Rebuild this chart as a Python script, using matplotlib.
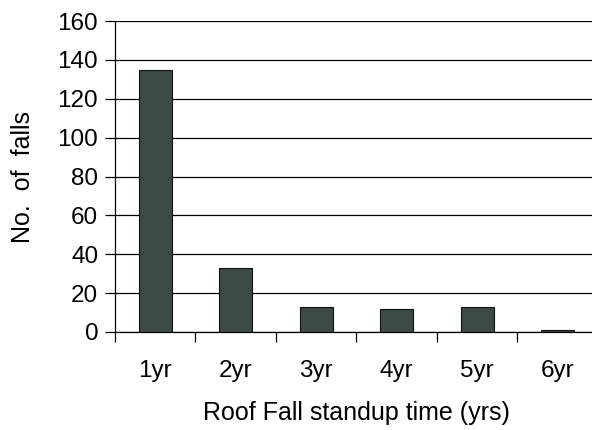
import matplotlib
matplotlib.use("Agg")
import matplotlib.pyplot as plt
import numpy as np

categories = ["1yr", "2yr", "3yr", "4yr", "5yr", "6yr"]
falls = [135, 33, 13, 12, 13, 1]

plt.rcParams["font.family"] = ["Liberation Sans", "DejaVu Sans"]

fig = plt.figure(figsize=(5.92, 4.30), dpi=100)
ax = fig.add_axes([0.194, 0.228, 0.816, 0.723])

x = np.arange(1, len(categories) + 1)
ax.bar(x, falls, width=0.41, color="#3b4a45", edgecolor="#111111", linewidth=0.8, zorder=3)

ax.set_xlim(0.5, 6.5)
ax.set_ylim(0, 160)
ax.set_yticks(range(0, 161, 20))
ax.yaxis.grid(True, color="black", linewidth=0.9, zorder=0)

ax.set_xticks(x)
ax.set_xticklabels(categories)
ax.set_xticks(np.arange(0.5, 7.0, 1.0), minor=True)
ax.tick_params(axis="x", which="major", length=0, pad=20, labelsize=17.5)
ax.tick_params(axis="x", which="minor", length=7, direction="out", width=0.9)
ax.tick_params(axis="y", length=7, direction="out", width=0.9, labelsize=17.5, pad=5)

for s in ["top", "right"]:
    ax.spines[s].set_visible(False)
ax.spines["left"].set_linewidth(0.9)
ax.spines["bottom"].set_linewidth(0.9)

ax.set_xlabel("Roof Fall standup time (yrs)", fontsize=18, labelpad=14)
ax.set_ylabel("No.  of  falls", fontsize=18, labelpad=16)

fig.savefig("out.png", dpi=100)
